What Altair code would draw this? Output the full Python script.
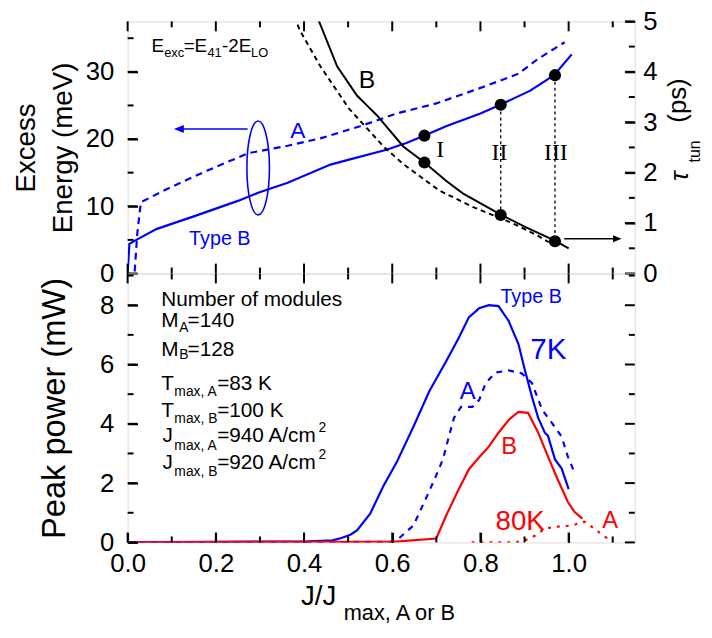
import altair as alt
import pandas as pd

FONT = "Liberation Sans"
SERIF = "Liberation Serif"
BLUE = "#0000ff"
RED = "#ff0000"

# ---------------- data ----------------
# Top panel, left axis: excess energy (meV) vs J/Jmax
eB_x = [0.0, 0.004, 0.02, 0.065, 0.15, 0.25, 0.296, 0.363, 0.46, 0.50, 0.587, 0.632, 0.672, 0.722, 0.80, 0.845, 0.913, 0.967, 1.007]
eB_y = [0.0, 4.4, 5.0, 6.6, 8.5, 10.8, 12.0, 13.5, 16.2, 16.9, 18.4, 19.4, 20.5, 21.9, 23.8, 25.1, 27.2, 29.5, 32.6]
eA_x = [0.016, 0.022, 0.03, 0.087, 0.18, 0.274, 0.363, 0.437, 0.527, 0.61, 0.70, 0.796, 0.886, 0.93, 0.991]
eA_y = [0.3, 6.0, 10.6, 12.5, 15.3, 17.9, 19.0, 20.1, 21.9, 23.8, 25.3, 27.5, 29.7, 31.9, 34.4]
# Top panel, right axis: tunnelling time (ps)
tB_x = [0.428, 0.435, 0.475, 0.52, 0.543, 0.565, 0.625, 0.673, 0.722, 0.76, 0.848, 0.90, 0.971, 1.0]
tB_y = [5.1, 4.98, 4.11, 3.53, 3.33, 3.14, 2.52, 2.2, 1.84, 1.59, 1.16, 0.93, 0.64, 0.5]
tA_x = [0.378, 0.39, 0.437, 0.502, 0.58, 0.625, 0.706, 0.78, 0.872, 0.93, 0.955]
tA_y = [5.1, 4.83, 4.11, 3.27, 2.52, 2.17, 1.65, 1.33, 1.0, 0.75, 0.62]
# operating points I, II, III
pt_x = [0.673, 0.846, 0.969]
pt_e = [20.5, 25.1, 29.5]
pt_t = [2.2, 1.16, 0.64]
drop_x = [0.846, 0.969]
drop_top = [3.33, 3.92]
drop_bot = [1.16, 0.64]

# Bottom panel: peak power (mW)
p7B_x = [0.0, 0.2, 0.4, 0.464, 0.485, 0.505, 0.52, 0.55, 0.58, 0.61, 0.648, 0.684, 0.722, 0.751, 0.774, 0.79, 0.797, 0.819, 0.841, 0.864, 0.886, 0.901, 0.917, 0.931, 0.946, 0.953, 0.969, 0.984, 1.0]
p7B_y = [0.0, 0.02, 0.03, 0.07, 0.15, 0.26, 0.4, 0.97, 1.9, 2.7, 3.9, 5.1, 6.1, 6.9, 7.6, 7.8, 7.9, 8.0, 7.97, 7.47, 6.7, 5.8, 4.9, 4.2, 3.7, 3.6, 2.8, 2.5, 1.8]
p7A_x = [0.0, 0.3, 0.6, 0.61, 0.648, 0.673, 0.695, 0.715, 0.729, 0.74, 0.756, 0.782, 0.797, 0.812, 0.834, 0.864, 0.894, 0.917, 0.94, 0.962, 0.984, 0.998, 1.013]
p7A_y = [0.0, 0.0, 0.02, 0.07, 0.57, 1.37, 2.1, 2.8, 3.6, 4.2, 4.57, 4.57, 4.8, 5.37, 5.73, 5.8, 5.7, 5.37, 4.47, 4.03, 3.57, 2.9, 2.37]
p80B_x = [0.0, 0.3, 0.6, 0.70, 0.722, 0.751, 0.774, 0.797, 0.819, 0.841, 0.864, 0.886, 0.908, 0.931, 0.953, 0.975, 0.998, 1.013, 1.031]
p80B_y = [0.0, 0.02, 0.02, 0.13, 0.9, 1.8, 2.47, 2.87, 3.23, 3.7, 4.13, 4.4, 4.37, 3.7, 2.9, 2.13, 1.37, 1.03, 0.8]
p80A_x = [0.78, 0.88, 0.901, 0.924, 0.946, 0.975, 1.007, 1.036, 1.058, 1.081, 1.096, 1.10]
p80A_y = [0.0, 0.0, 0.07, 0.23, 0.47, 0.53, 0.57, 0.7, 0.47, 0.2, 0.07, 0.0]

# tick values
x_major = [0.0, 0.2, 0.4, 0.6, 0.8, 1.0]
x_minor = [0.1, 0.3, 0.5, 0.7, 0.9, 1.1]
e_major = [0, 10, 20, 30]
e_minor = [5, 15, 25, 35]
t_major = [0, 1, 2, 3, 4, 5]
t_minor = [0.5, 1.5, 2.5, 3.5, 4.5]
p_major = [0, 2, 4, 6, 8]
p_minor = [1, 3, 5, 7, 9]

# ---------------- layout ----------------
W, H1, H2 = 513, 255, 272
MAJ, MIN = 10, 6
XD = [0, 1.15]
ED = [0, 37.5]
TD = [0, 5]
PD = [0, 9.07]

XS = alt.Scale(domain=XD, nice=False, zero=False)
ES = alt.Scale(domain=ED, nice=False, zero=False)
TS = alt.Scale(domain=TD, nice=False, zero=False)
PS = alt.Scale(domain=PD, nice=False, zero=False)

# labelled axes draw their major ticks inward (axis shifted inside by the tick length)
lab = dict(labelFont=FONT, labelFontSize=26, labelColor="black", domain=False, grid=False,
           ticks=True, tickSize=MAJ, tickWidth=2, tickColor="black", offset=-MAJ)
AX_E = alt.Axis(values=e_major, title=["Excess", "Energy (meV)"], titleFont=FONT, titleFontSize=28,
                titleFontWeight="normal", titleColor="black", titleLineHeight=37, titlePadding=8,
                labelPadding=14, **lab)
AX_T = alt.Axis(orient="right", values=t_major, title=None, labelPadding=8, **lab)
AX_P = alt.Axis(values=p_major, title="Peak power (mW)", titleFont=FONT, titleFontSize=33,
                titleFontWeight="normal", titleColor="black", titlePadding=28, labelPadding=14, **lab)
AX_X = alt.Axis(values=x_major, format=".1f", title=None, labelPadding=8, labelFlush=False, **lab)


def Xt(f):
    return alt.X(f"{f}:Q", scale=XS, axis=None)


def Xb(f):
    return alt.X(f"{f}:Q", scale=XS, axis=AX_X)


def Ye(f):
    return alt.Y(f"{f}:Q", scale=ES, axis=AX_E)


def Yt(f):
    return alt.Y(f"{f}:Q", scale=TS, axis=AX_T)


def Yp(f):
    return alt.Y(f"{f}:Q", scale=PS, axis=AX_P)


def line(xs, ys, X, Y, color, width=2.2, dash=None):
    d = pd.DataFrame({"x": xs, "y": ys})
    kw = dict(color=color, strokeWidth=width, clip=True)
    if dash:
        kw["strokeDash"] = dash
    return alt.Chart(d).mark_line(**kw).encode(x=X("x"), y=Y("y"))


def tick_segments(X, Y, rows):
    d = pd.DataFrame(rows, columns=["k", "px", "py"])
    return alt.Chart(d).mark_line(color="black", strokeWidth=2, opacity=1).encode(
        x=X("px"), y=Y("py"), detail="k:N")


def xticks(X, Y, ydom, H, tag):
    """inward ticks on the top and bottom frame edges"""
    per_px = (ydom[1] - ydom[0]) / H
    rows = []
    for vals, L in ((x_major, MAJ), (x_minor, MIN)):
        for v in vals:
            kb, kt = f"{tag}b{v}", f"{tag}t{v}"
            rows += [(kb, v, ydom[0]), (kb, v, ydom[0] + L * per_px)]
            rows += [(kt, v, ydom[1]), (kt, v, ydom[1] - L * per_px)]
    return tick_segments(X, Y, rows)


def yticks(X, Y, major, minor, tag, left=True, right=True):
    """inward ticks on the left and/or right frame edges"""
    per_px = (XD[1] - XD[0]) / W
    rows = []
    for vals, L in ((major, MAJ), (minor, MIN)):
        for v in vals:
            if left:
                k = f"{tag}l{v}"
                rows += [(k, XD[0], v), (k, XD[0] + L * per_px, v)]
            if right:
                k = f"{tag}r{v}"
                rows += [(k, XD[1] - L * per_px, v), (k, XD[1], v)]
    return tick_segments(X, Y, rows)


def texts(rows, X=None, Y=None, xval=None, yval=None, font=FONT, align="left",
          baseline="alphabetic", angle=None, style=None):
    d = pd.DataFrame(rows, columns=["t", "x", "y", "s", "c"])
    mk = dict(font=font, align=align, baseline=baseline)
    if angle:
        mk["angle"] = angle
    if style:
        mk["fontStyle"] = style
    enc = dict(text="t:N", size=alt.Size("s:Q", scale=None), color=alt.Color("c:N", scale=None))
    enc["x"] = alt.value(xval) if xval is not None else X("x")
    enc["y"] = alt.value(yval) if yval is not None else Y("y")
    return alt.Chart(d).mark_text(**mk).encode(**enc)


def point(x, y, X, Y, shape, size, color, filled=True, sw=1.6):
    d = pd.DataFrame({"x": [x], "y": [y]})
    return alt.Chart(d).mark_point(shape=shape, size=size, filled=filled, color=color,
                                   opacity=1, strokeWidth=sw).encode(x=X("x"), y=Y("y"))


ELLIPSE = "M0,-1A0.24,1,0,1,1,0,1A0.24,1,0,1,1,0,-1Z"
HEAD_L = "M0,0L1,-0.4L1,0.4Z"
HEAD_R = "M0,0L-1,-0.4L-1,0.4Z"

# ---------------- top panel, left group (energy) ----------------
left_layers = []
left_layers.append(line(eB_x, eB_y, Xt, Ye, BLUE, 2.2))
left_layers.append(line(eA_x, eA_y, Xt, Ye, BLUE, 2.2, [7, 5]))
left_layers.append(
    alt.Chart(pd.DataFrame({"x": pt_x, "y": pt_e})).mark_circle(size=150, color="black", opacity=1)
    .encode(x=Xt("x"), y=Ye("y")))
left_layers.append(point(0.296, 15.7, Xt, Ye, ELLIPSE, 9025, BLUE, filled=False))
left_layers.append(
    alt.Chart(pd.DataFrame({"x": [0.272], "x2": [0.115], "y": [21.5]}))
    .mark_rule(color=BLUE, strokeWidth=1.6).encode(x=Xt("x"), x2="x2:Q", y=Ye("y")))
left_layers.append(point(0.105, 21.5, Xt, Ye, HEAD_L, 400, BLUE))
left_layers.append(texts([("A", 0.386, 21.2, 23, BLUE), ("Type B", 0.209, 5.1, 20, BLUE)],
                         Xt, Ye, align="center", baseline="middle"))
left_layers.append(texts([
    ("E", 0.054, 32.9, 19, "black"), ("exc", 0.083, 32.2, 13, "black"),
    ("=E", 0.127, 32.9, 19, "black"), ("41", 0.181, 32.2, 13, "black"),
    ("-2E", 0.214, 32.9, 19, "black"), ("LO", 0.28, 32.2, 13, "black")], Xt, Ye))
left_layers.append(xticks(Xt, Ye, ED, H1, "e"))
left_layers.append(yticks(Xt, Ye, e_major, e_minor, "e", left=True, right=False))
left_group = alt.layer(*left_layers)

# ---------------- top panel, right group (tunnelling time) ----------------
right_layers = []
right_layers.append(line(tA_x, tA_y, Xt, Yt, "black", 2.0, [5, 4]))
right_layers.append(line(tB_x, tB_y, Xt, Yt, "black", 2.0))
right_layers.append(
    alt.Chart(pd.DataFrame({"x": drop_x, "y": drop_top, "y2": drop_bot}))
    .mark_rule(color="black", strokeWidth=1.3, strokeDash=[3, 3]).encode(x=Xt("x"), y=Yt("y"), y2="y2:Q"))
right_layers.append(
    alt.Chart(pd.DataFrame({"x": pt_x, "y": pt_t})).mark_circle(size=150, color="black", opacity=1)
    .encode(x=Xt("x"), y=Yt("y")))
right_layers.append(
    alt.Chart(pd.DataFrame({"x": [0.99], "x2": [1.105], "y": [0.69]}))
    .mark_rule(color="black", strokeWidth=1.5).encode(x=Xt("x"), x2="x2:Q", y=Yt("y")))
right_layers.append(point(1.12, 0.69, Xt, Yt, HEAD_R, 300, "black"))
right_layers.append(texts([("B", 0.543, 3.84, 25, "black")], Xt, Yt, align="center", baseline="middle"))
right_layers.append(texts([("I", 0.709, 2.45, 24, "black"), ("II", 0.843, 2.39, 24, "black"),
                           ("III", 0.971, 2.39, 24, "black")], Xt, Yt, font=SERIF,
                          align="center", baseline="middle"))
right_layers.append(texts([("τ", 0, 1.93, 26, "black")], Y=Yt, xval=W + 54, align="center",
                          angle=270, style="italic"))
right_layers.append(texts([("(ps)", 0, 3.43, 26, "black")], Y=Yt, xval=W + 52, align="center",
                          angle=270))
right_layers.append(texts([("tun", 0, 2.42, 16, "black")], Y=Yt, xval=W + 66, align="center",
                          angle=270))
right_layers.append(yticks(Xt, Yt, t_major, t_minor, "t", left=False, right=True))
right_group = alt.layer(*right_layers)

top = alt.layer(left_group, right_group).resolve_scale(y="independent").properties(width=W, height=H1)

# ---------------- bottom panel ----------------
bl = []
bl.append(line(p7B_x, p7B_y, Xb, Yp, BLUE, 2.2))
bl.append(line(p7A_x, p7A_y, Xb, Yp, BLUE, 2.2, [6, 6]))
bl.append(line(p80B_x, p80B_y, Xb, Yp, RED, 2.2))
bl.append(line(p80A_x, p80A_y, Xb, Yp, RED, 2.2, [3, 6]))
bl.append(texts([
    ("Number of modules", 0.076, 7.97, 21, "black"),
    ("M", 0.076, 7.25, 21, "black"), ("A", 0.117, 7.08, 14, "black"), ("=140", 0.136, 7.25, 21, "black"),
    ("M", 0.076, 6.3, 21, "black"), ("B", 0.117, 6.17, 14, "black"), ("=128", 0.136, 6.3, 21, "black"),
    ("T", 0.076, 5.13, 21, "black"), ("max, A", 0.106, 4.93, 14, "black"), ("=83 K", 0.203, 5.13, 21, "black"),
    ("T", 0.076, 4.23, 21, "black"), ("max, B", 0.106, 4.03, 14, "black"), ("=100 K", 0.203, 4.23, 21, "black"),
    ("J", 0.079, 3.37, 21, "black"), ("max, A", 0.106, 3.13, 14, "black"),
    ("=940 A/cm", 0.203, 3.37, 21, "black"), ("2", 0.433, 3.73, 14, "black"),
    ("J", 0.079, 2.47, 21, "black"), ("max, B", 0.106, 2.23, 14, "black"),
    ("=920 A/cm", 0.203, 2.47, 21, "black"), ("2", 0.433, 2.80, 14, "black"),
], Xb, Yp))
bl.append(texts([
    ("Type B", 0.915, 8.27, 20, BLUE), ("7K", 0.954, 6.5, 30, BLUE), ("A", 0.771, 5.07, 24, BLUE),
    ("B", 0.865, 3.23, 24, RED), ("80K", 0.89, 0.67, 28, RED), ("A", 1.094, 0.73, 24, RED),
], Xb, Yp, align="center", baseline="middle"))
bl.append(texts([("J/J", 0.393, 0, 28, "black")], X=Xb, yval=H2 + 63))
bl.append(texts([("max, A or B", 0.49, 0, 22, "black")], X=Xb, yval=H2 + 78))
bl.append(xticks(Xb, Yp, PD, H2, "p"))
bl.append(yticks(Xb, Yp, p_major, p_minor, "p", left=True, right=True))
bottom = alt.layer(*bl).properties(width=W, height=H2)

chart = (
    alt.vconcat(top, bottom, spacing=0, bounds="flush")
    .properties(padding={"left": 4, "top": -4, "right": 0, "bottom": -3}, background="white")
    .configure_view(stroke="black", strokeWidth=2)
    .configure(font=FONT)
)

chart.save("out.html", embed_options={"renderer": "svg", "actions": False})
